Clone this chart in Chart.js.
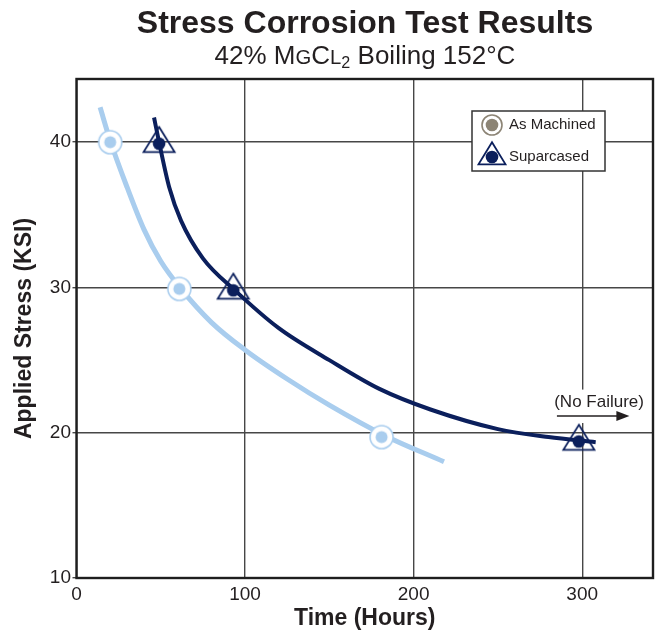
<!DOCTYPE html>
<html>
<head>
<meta charset="utf-8">
<script src="https://cdn.jsdelivr.net/npm/chart.js@4.4.0/dist/chart.umd.min.js"></script>
<style>
  html, body { margin: 0; padding: 0; background: #fff; }
  #wrap { position: relative; width: 658px; height: 634px; }
  #heading { position: absolute; left: 72px; width: 586px; top: 4px; text-align: center;
    font-family: "Liberation Sans", Arial, sans-serif; color: #231f20; }
  .t1 { font-weight: bold; font-size: 32px; line-height: 36px; }
  .t2 { font-size: 26px; line-height: 30px; }
  .sc { font-size: 0.78em; }
  .sub { font-size: 0.62em; position: relative; top: 0.22em; }
</style>
</head>
<body>
<div id="wrap">
  <canvas id="stressChart" width="658" height="634"></canvas>
  <div id="heading">
    <div class="t1">Stress Corrosion Test Results</div>
    <div class="t2">42% M<span class="sc">G</span>C<span class="sc">L</span><span class="sub">2</span> Boiling 152°C</div>
  </div>
</div>
<script>
// measured points
const seriesNames = ['As Machined', 'Suparcased'];
const machinedX = [20, 61, 181];
const machinedY = [40, 29.9, 19.7];
const suparX = [49, 93, 298];
const suparY = [39.9, 29.8, 19.4];

// fitted curves
const machinedCurveX = [14, 20, 30, 40, 50, 62, 80, 100, 125, 150, 183, 218];
const machinedCurveY = [42.4, 40.1, 36.9, 34.0, 31.8, 29.9, 27.6, 25.7, 23.7, 21.9, 19.8, 18.0];
const suparCurveX = [46, 49, 55, 62, 75, 94, 120, 150, 180, 210, 250, 280, 308];
const suparCurveY = [41.7, 40.0, 36.9, 34.6, 32.0, 29.8, 27.2, 25.0, 23.0, 21.6, 20.25, 19.7, 19.35];

// axes
const xTicks = [0, 100, 200, 300];
const yTicks = [10, 20, 30, 40];
const xMax = 342;
const yMin = 10;
const yMax = 44.35;

// "(No Failure)" note
const noteText = '(No Failure)';
const noteX = 310, noteY = 21.8;
const arrowX = [285, 328];
const arrowY = 21.15;

const lightBlue = '#a9cdee';
const navy = '#0b1f5c';
const ink = '#231f20';
const legendGray = '#8c8475';

function toPoints(xs, ys) {
    return xs.map((x, i) => ({ x: x, y: ys[i] }));
}

function ringMarker(fill, ring, rOuter, rInner) {
    const c = document.createElement('canvas');
    const s = Math.ceil(rOuter * 2 + 4);
    c.width = s; c.height = s;
    const g = c.getContext('2d');
    g.beginPath();
    g.arc(s / 2, s / 2, rOuter, 0, Math.PI * 2);
    g.fillStyle = '#fff';
    g.fill();
    g.lineWidth = 1.6;
    g.strokeStyle = ring;
    g.stroke();
    g.beginPath();
    g.arc(s / 2, s / 2, rInner, 0, Math.PI * 2);
    g.fillStyle = fill;
    g.fill();
    return c;
}

function triMarker(color, w, h, rDot) {
    // triangle centred on its centroid
    const c = document.createElement('canvas');
    const s = Math.ceil(Math.max(w, h * 4 / 3) + 6);
    c.width = s; c.height = s;
    const g = c.getContext('2d');
    const cx = s / 2, cy = s / 2;
    g.beginPath();
    g.moveTo(cx, cy - h * 2 / 3);
    g.lineTo(cx + w / 2, cy + h / 3);
    g.lineTo(cx - w / 2, cy + h / 3);
    g.closePath();
    g.lineWidth = 1.8;
    g.strokeStyle = color;
    g.stroke();
    g.beginPath();
    g.arc(cx, cy, rDot, 0, Math.PI * 2);
    g.fillStyle = color;
    g.fill();
    return c;
}

const ringImg = ringMarker(lightBlue, lightBlue, 11.5, 6);
const triImg = triMarker(navy, 31, 25, 6.3);
const legendRing = ringMarker(legendGray, legendGray, 10, 6.3);
const legendTri = triMarker(navy, 27, 22, 6.3);

const framePlugin = {
    id: 'frame',
    beforeDatasetsDraw(chart) {
        const a = chart.chartArea;
        const ctx = chart.ctx;
        const xs = chart.scales.x, ys = chart.scales.y;
        ctx.save();
        // white patch behind the note so the 300 gridline breaks there
        ctx.font = '17px "Liberation Sans", Arial, sans-serif';
        const tw = ctx.measureText(noteText).width;
        const tx = xs.getPixelForValue(noteX);
        const ty = ys.getPixelForValue(noteY);
        const ay = ys.getPixelForValue(arrowY);
        ctx.fillStyle = '#fff';
        ctx.fillRect(tx - tw / 2 - 2, ty - 17, tw + 4, ay - ty + 24);

        ctx.strokeStyle = '#1e1e1e';
        ctx.lineWidth = 2.4;
        ctx.strokeRect(a.left, a.top, a.right - a.left, a.bottom - a.top);
        ctx.restore();
    },
    afterDraw(chart) {
        const a = chart.chartArea;
        const ctx = chart.ctx;
        const xs = chart.scales.x, ys = chart.scales.y;
        ctx.save();

        // legend box
        const bx = a.right - 181, by = a.top + 32, bw = 133, bh = 60;
        ctx.fillStyle = '#fff';
        ctx.fillRect(bx, by, bw, bh);
        ctx.strokeStyle = '#333';
        ctx.lineWidth = 1.5;
        ctx.strokeRect(bx, by, bw, bh);
        ctx.drawImage(legendRing, bx + 20 - legendRing.width / 2, by + 14 - legendRing.height / 2);
        ctx.drawImage(legendTri, bx + 20 - legendTri.width / 2, by + 46 - legendTri.height / 2);
        ctx.fillStyle = ink;
        ctx.font = '15px "Liberation Sans", Arial, sans-serif';
        ctx.textBaseline = 'middle';
        ctx.textAlign = 'left';
        ctx.fillText(seriesNames[0], bx + 37, by + 14);
        ctx.fillText(seriesNames[1], bx + 37, by + 46);

        // no failure note
        ctx.font = '17px "Liberation Sans", Arial, sans-serif';
        ctx.textAlign = 'center';
        ctx.textBaseline = 'alphabetic';
        ctx.fillText(noteText, xs.getPixelForValue(noteX), ys.getPixelForValue(noteY));
        const x0 = xs.getPixelForValue(arrowX[0]);
        const x1 = xs.getPixelForValue(arrowX[1]);
        const y = ys.getPixelForValue(arrowY);
        ctx.strokeStyle = ink;
        ctx.lineWidth = 1.5;
        ctx.beginPath();
        ctx.moveTo(x0, y);
        ctx.lineTo(x1 - 10, y);
        ctx.stroke();
        ctx.beginPath();
        ctx.moveTo(x1, y);
        ctx.lineTo(x1 - 13, y - 5);
        ctx.lineTo(x1 - 13, y + 5);
        ctx.closePath();
        ctx.fill();
        ctx.restore();
    }
};

const tickFont = { family: '"Liberation Sans", Arial, sans-serif', size: 19 };
const titleFont = { family: '"Liberation Sans", Arial, sans-serif', size: 23, weight: 'bold' };

new Chart(document.getElementById('stressChart'), {
    type: 'line',
    data: {
        datasets: [
            {
                label: seriesNames[1],
                data: toPoints(suparX, suparY),
                showLine: false,
                pointStyle: triImg,
                pointRadius: 10,
                order: 0
            },
            {
                label: seriesNames[0],
                data: toPoints(machinedX, machinedY),
                showLine: false,
                pointStyle: ringImg,
                pointRadius: 10,
                order: 0
            },
            {
                label: 'Suparcased fit',
                data: toPoints(suparCurveX, suparCurveY),
                borderColor: navy,
                borderWidth: 4,
                pointRadius: 0,
                cubicInterpolationMode: 'monotone',
                fill: false,
                order: 1
            },
            {
                label: 'As Machined fit',
                data: toPoints(machinedCurveX, machinedCurveY),
                borderColor: lightBlue,
                borderWidth: 5,
                pointRadius: 0,
                cubicInterpolationMode: 'monotone',
                fill: false,
                order: 2
            }
        ]
    },
    options: {
        responsive: false,
        animation: false,
        layout: { autoPadding: false, padding: { top: 79, right: 5, left: 0, bottom: 0 } },
        plugins: {
            legend: { display: false },
            tooltip: { enabled: false },
            title: { display: false }
        },
        scales: {
            x: {
                type: 'linear',
                min: 0,
                max: xMax,
                afterBuildTicks: s => { s.ticks = xTicks.map(v => ({ value: v })); },
                afterFit: s => { s.height = 56; s.paddingLeft = 0; s.paddingRight = 0; },
                ticks: { color: ink, font: tickFont, padding: 5, maxRotation: 0 },
                grid: { color: '#474747', lineWidth: 1.4, drawTicks: false },
                border: { display: false },
                title: { display: true, text: 'Time (Hours)', color: ink, font: titleFont, padding: { top: 0, bottom: 2 } }
            },
            y: {
                type: 'linear',
                min: yMin,
                max: yMax,
                afterBuildTicks: s => { s.ticks = yTicks.map(v => ({ value: v })); },
                afterFit: s => { s.width = 76.5; },
                ticks: { color: ink, font: tickFont, padding: 1.5 },
                grid: { color: '#474747', lineWidth: 1.4, tickLength: 4 },
                border: { display: false },
                title: { display: true, text: 'Applied Stress (KSI)', color: ink, font: titleFont, padding: { top: 11, bottom: 0 } }
            }
        }
    },
    plugins: [framePlugin]
});
</script>
</body>
</html>
